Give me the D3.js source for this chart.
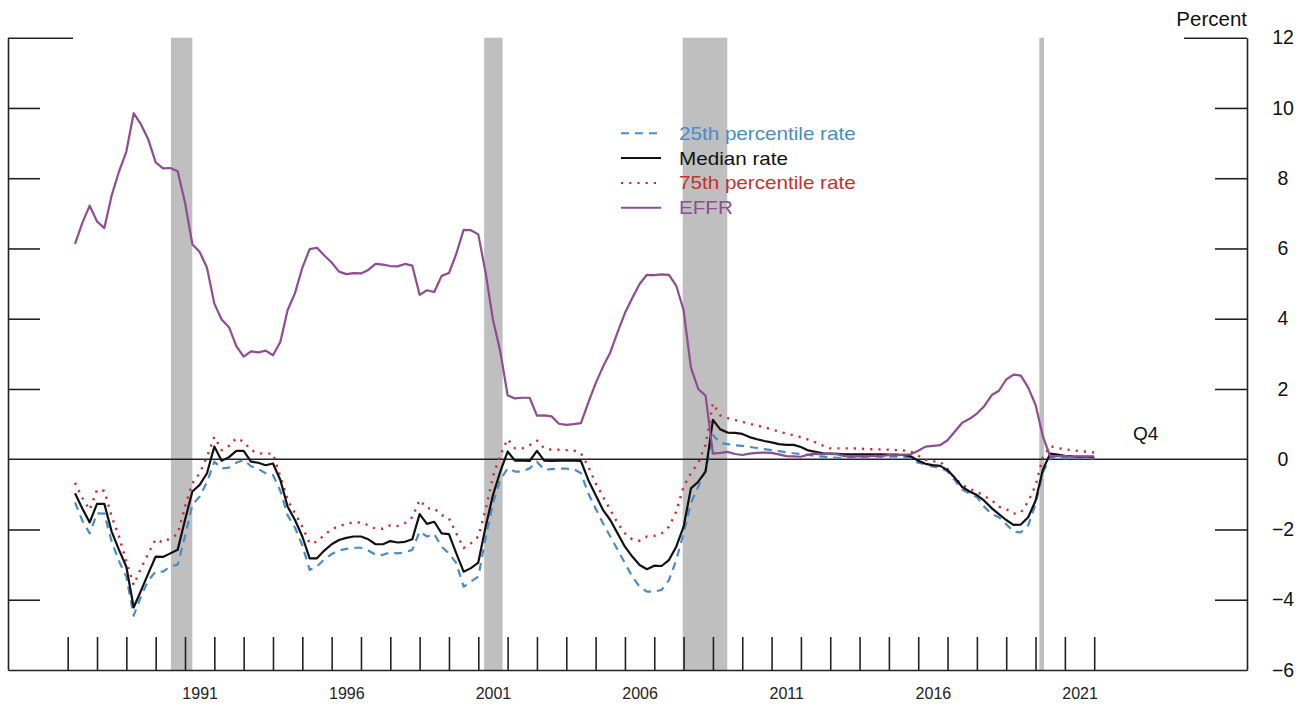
<!DOCTYPE html>
<html>
<head>
<meta charset="utf-8">
<script src="https://cdn.jsdelivr.net/npm/d3@7"></script>
<style>
  html, body { margin: 0; padding: 0; background: #fff; }
  svg { display: block; font-family: "Liberation Sans", Arial, Helvetica, sans-serif; }
</style>
</head>
<body>
<svg id="chart" width="1314" height="706"></svg>
<script>
// Quarterly observations, 1987:Q1 through 2021:Q4 (one row per year)
const firstYear = 1987;
const lastYear = 2021;

const effr = [
  6.13, 6.73, 7.22, 6.77,
  6.58, 7.51, 8.19, 8.76,
  9.85, 9.53, 9.10, 8.45,
  8.28, 8.29, 8.20, 7.31,
  6.12, 5.90, 5.45, 4.43,
  3.98, 3.76, 3.22, 2.92,
  3.07, 3.04, 3.09, 2.96,
  3.34, 4.25, 4.73, 5.45,
  5.98, 6.02, 5.80, 5.60,
  5.34, 5.27, 5.30, 5.29,
  5.39, 5.56, 5.54, 5.50,
  5.49, 5.56, 5.51, 4.68,
  4.81, 4.76, 5.22, 5.30,
  5.85, 6.53, 6.52, 6.40,
  5.31, 3.97, 3.07, 1.82,
  1.73, 1.75, 1.75, 1.24,
  1.25, 1.22, 1.01, 0.98,
  1.00, 1.03, 1.61, 2.16,
  2.63, 3.04, 3.62, 4.16,
  4.59, 4.99, 5.25, 5.24,
  5.26, 5.25, 4.94, 4.24,
  2.61, 2.00, 1.81, 0.16,
  0.18, 0.21, 0.15, 0.12,
  0.16, 0.18, 0.19, 0.18,
  0.14, 0.09, 0.08, 0.07,
  0.13, 0.16, 0.14, 0.16,
  0.14, 0.09, 0.08, 0.09,
  0.08, 0.10, 0.09, 0.12,
  0.11, 0.13, 0.14, 0.24,
  0.36, 0.38, 0.40, 0.54,
  0.79, 1.04, 1.15, 1.30,
  1.51, 1.82, 1.95, 2.27,
  2.41, 2.38, 2.04, 1.55,
  0.65, 0.08, 0.09, 0.09,
  0.07, 0.08, 0.08, 0.08
];

const medianRate = [
  -0.97, -1.40, -1.80, -1.27,
  -1.27, -2.06, -2.58, -3.06,
  -4.22, -3.74, -3.25, -2.77,
  -2.78, -2.68, -2.58, -1.73,
  -0.92, -0.73, -0.40, 0.36,
  -0.04, 0.06, 0.24, 0.24,
  -0.07, -0.10, -0.17, -0.12,
  -0.59, -1.35, -1.73, -2.20,
  -2.82, -2.82, -2.60, -2.42,
  -2.30, -2.24, -2.20, -2.20,
  -2.28, -2.42, -2.42, -2.33,
  -2.37, -2.35, -2.28, -1.56,
  -1.84, -1.78, -2.11, -2.13,
  -2.68, -3.20, -3.10, -2.94,
  -1.92, -1.02, -0.35, 0.22,
  -0.04, -0.04, -0.05, 0.24,
  -0.04, -0.05, -0.04, -0.04,
  -0.04, -0.05, -0.59, -1.02,
  -1.44, -1.73, -2.11, -2.49,
  -2.77, -3.01, -3.13, -3.03,
  -3.04, -2.87, -2.49, -1.92,
  -0.83, -0.64, -0.35, 1.12,
  0.85, 0.76, 0.75, 0.72,
  0.63, 0.57, 0.52, 0.48,
  0.43, 0.41, 0.41, 0.35,
  0.25, 0.21, 0.17, 0.16,
  0.15, 0.14, 0.14, 0.14,
  0.14, 0.14, 0.14, 0.13,
  0.13, 0.12, 0.08, -0.04,
  -0.13, -0.17, -0.19, -0.31,
  -0.53, -0.79, -0.92, -1.02,
  -1.18, -1.39, -1.56, -1.73,
  -1.87, -1.86, -1.65, -1.18,
  -0.30, 0.16, 0.13, 0.10,
  0.08, 0.07, 0.07, 0.06
];

const pct25Rate = [
  -1.23, -1.75, -2.11, -1.54,
  -1.55, -2.35, -2.90, -3.35,
  -4.45, -3.90, -3.45, -3.20,
  -3.20, -3.05, -3.00, -2.20,
  -1.30, -1.06, -0.65, -0.07,
  -0.26, -0.24, -0.10, -0.02,
  -0.20, -0.28, -0.40, -0.45,
  -0.90, -1.60, -1.95, -2.45,
  -3.15, -3.05, -2.85, -2.70,
  -2.60, -2.55, -2.52, -2.52,
  -2.60, -2.72, -2.72, -2.65,
  -2.68, -2.65, -2.58, -2.06,
  -2.20, -2.13, -2.49, -2.68,
  -2.96, -3.63, -3.48, -3.34,
  -2.25, -1.25, -0.59, -0.26,
  -0.35, -0.35, -0.26, -0.07,
  -0.30, -0.28, -0.27, -0.27,
  -0.28, -0.40, -0.97, -1.40,
  -1.82, -2.20, -2.58, -2.96,
  -3.34, -3.63, -3.77, -3.77,
  -3.72, -3.44, -2.87, -2.11,
  -1.25, -0.78, -0.30, 0.69,
  0.46, 0.43, 0.40, 0.38,
  0.35, 0.32, 0.29, 0.26,
  0.23, 0.20, 0.17, 0.15,
  0.12, 0.09, 0.07, 0.05,
  0.04, 0.04, 0.05, 0.06,
  0.07, 0.07, 0.07, 0.07,
  0.07, 0.06, 0.03, -0.10,
  -0.15, -0.21, -0.24, -0.35,
  -0.60, -0.86, -0.98, -1.08,
  -1.35, -1.56, -1.65, -1.85,
  -2.06, -2.08, -1.88, -1.28,
  -0.38, 0.06, 0.04, 0.03,
  0.03, 0.03, 0.03, 0.03
];

const pct75Rate = [
  -0.67, -1.10, -1.44, -0.87,
  -0.90, -1.63, -2.20, -2.91,
  -3.58, -3.10, -2.68, -2.28,
  -2.37, -2.25, -2.13, -1.35,
  -0.68, -0.40, 0.07, 0.64,
  0.26, 0.38, 0.60, 0.50,
  0.26, 0.17, 0.16, 0.16,
  -0.49, -1.16, -1.54, -1.92,
  -2.39, -2.35, -2.15, -2.00,
  -1.90, -1.84, -1.80, -1.80,
  -1.88, -1.98, -1.98, -1.88,
  -1.90, -1.82, -1.65, -1.16,
  -1.40, -1.40, -1.59, -1.68,
  -2.11, -2.53, -2.39, -2.20,
  -1.44, -0.49, 0.12, 0.57,
  0.31, 0.31, 0.40, 0.53,
  0.31, 0.27, 0.27, 0.26,
  0.25, 0.17, -0.21, -0.68,
  -1.06, -1.44, -1.82, -2.11,
  -2.28, -2.32, -2.20, -2.18,
  -2.11, -1.92, -1.49, -0.78,
  -0.40, -0.11, 0.41, 1.59,
  1.25, 1.17, 1.12, 1.06,
  1.01, 0.96, 0.91, 0.85,
  0.79, 0.73, 0.68, 0.63,
  0.56, 0.48, 0.39, 0.31,
  0.31, 0.31, 0.31, 0.30,
  0.29, 0.28, 0.28, 0.27,
  0.26, 0.25, 0.22, 0.10,
  -0.02, -0.06, -0.07, -0.28,
  -0.55, -0.72, -0.85, -0.92,
  -1.05, -1.16, -1.35, -1.42,
  -1.55, -1.52, -1.20, -0.75,
  0.05, 0.37, 0.32, 0.28,
  0.26, 0.23, 0.21, 0.19
];

// NBER recession periods, in decimal years
const recessions = [
  [1990.52, 1991.25],
  [2001.20, 2001.83],
  [2007.97, 2009.49],
  [2020.13, 2020.29]
];

const yTicks = [-6, -4, -2, 0, 2, 4, 6, 8, 10, 12];
const yearTicks = d3.range(1987, 2023);
const yearLabels = [1991, 1996, 2001, 2006, 2011, 2016, 2021];

const legendItems = [
  { label: "25th percentile rate", key: "p25" },
  { label: "Median rate", key: "median" },
  { label: "75th percentile rate", key: "p75" },
  { label: "EFFR", key: "effr" }
];

// ---- styles ----
const styles = {
  p25:    { color: "#4a8cc6", dash: "8,6",   width: 2.2 },
  median: { color: "#111111", dash: null,    width: 2.2 },
  p75:    { color: "#c8302e", dash: "2.2,6", width: 2.4 },
  effr:   { color: "#8f4b93", dash: null,    width: 2.2 }
};

// Quarter-end dates: Q1 -> year + 0.25, ..., Q4 -> year + 1.0
const dates = [];
for (let yr = firstYear; yr <= lastYear; yr++) {
  for (let q = 1; q <= 4; q++) dates.push(yr + q / 4);
}

const svg = d3.select("#chart");
const plotL = 8, plotR = 1247, plotT = 37.7, plotB = 670;

const x = d3.scaleLinear().domain([1984.965, 2027.21]).range([plotL, plotR]);
const y = d3.scaleLinear().domain([-6, 12]).range([plotB, plotT]);

const axisColor = "#222";

// Recession shading
svg.append("g")
  .selectAll("rect")
  .data(recessions)
  .join("rect")
  .attr("x", d => x(d[0]))
  .attr("width", d => x(d[1]) - x(d[0]))
  .attr("y", plotT)
  .attr("height", plotB - plotT)
  .attr("fill", "#bfbfbf");

// Left axis: ticks pointing inward, no labels
const gLeft = svg.append("g")
  .attr("transform", `translate(${plotL},0)`)
  .call(d3.axisLeft(y).tickValues(yTicks.filter(v => v !== -6 && v !== 0))
    .tickSize(-32).tickSizeOuter(0).tickFormat(""));

// Right axis: ticks pointing inward, labels outside
const gRight = svg.append("g")
  .attr("transform", `translate(${plotR},0)`)
  .call(d3.axisRight(y).tickValues(yTicks)
    .tickSize(-32).tickSizeOuter(0).tickPadding(36).tickFormat(d3.format("d")));

gRight.selectAll(".tick text")
  .attr("text-anchor", "middle")
  .attr("font-size", 19.5)
  .attr("fill", "#111")
  .attr("font-family", "Liberation Sans, Arial, sans-serif");
gRight.selectAll(".tick").filter(d => d === -6 || d === 0).select("line").remove();

// Longer top ticks at 12
gLeft.selectAll(".tick").filter(d => d === 12).select("line").attr("x2", 65);
gRight.selectAll(".tick").filter(d => d === 12).select("line").attr("x2", -63);

// Bottom axis: yearly ticks pointing up
const gBottom = svg.append("g")
  .attr("transform", `translate(0,${plotB})`)
  .call(d3.axisBottom(x).tickValues(yearTicks).tickSize(-33).tickSizeOuter(0).tickFormat(""));

// Year labels centred within each year
const gLabels = svg.append("g")
  .attr("transform", `translate(0,${plotB})`)
  .call(d3.axisBottom(x).tickValues(yearLabels.map(v => v + 0.5))
    .tickSize(0).tickPadding(18).tickFormat(d => String(Math.floor(d))));
gLabels.select(".domain").remove();
gLabels.selectAll(".tick text")
  .attr("font-size", 16)
  .attr("fill", "#222")
  .attr("font-family", "Liberation Sans, Arial, sans-serif");

[gLeft, gRight, gBottom].forEach(g => {
  g.selectAll("line, path").attr("stroke", axisColor).attr("stroke-width", 1.6);
});

// Zero line
svg.append("line")
  .attr("x1", plotL).attr("x2", plotR)
  .attr("y1", y(0)).attr("y2", y(0))
  .attr("stroke", axisColor).attr("stroke-width", 1.6);

// Series lines
const line = d3.line()
  .x((d, i) => x(dates[i]))
  .y(d => y(d));

const series = [
  { key: "p25", values: pct25Rate },
  { key: "p75", values: pct75Rate },
  { key: "median", values: medianRate },
  { key: "effr", values: effr }
];

svg.append("g")
  .selectAll("path")
  .data(series)
  .join("path")
  .attr("d", d => line(d.values))
  .attr("fill", "none")
  .attr("stroke", d => styles[d.key].color)
  .attr("stroke-width", d => styles[d.key].width)
  .attr("stroke-dasharray", d => styles[d.key].dash)
  .attr("stroke-linejoin", "round");

// Legend
const legend = svg.append("g").attr("transform", "translate(621,133.3)");
const rowH = 24.8;
legendItems.forEach((item, i) => {
  const st = styles[item.key];
  const row = legend.append("g").attr("transform", `translate(0,${i * rowH})`);
  row.append("line")
    .attr("x1", 0).attr("x2", 40)
    .attr("y1", 0).attr("y2", 0)
    .attr("stroke", st.color)
    .attr("stroke-width", 2)
    .attr("stroke-dasharray", st.dash);
  row.append("text")
    .attr("transform", "translate(58,6.5) scale(1.18,1)")
    .attr("font-size", 17.5)
    .attr("fill", st.color)
    .text(item.label);
});

// Unit label and latest-quarter note
svg.append("text")
  .attr("x", plotR).attr("y", 26)
  .attr("text-anchor", "end")
  .attr("font-size", 20.5)
  .attr("fill", "#111")
  .text("Percent");

svg.append("text")
  .attr("x", 1133).attr("y", 440)
  .attr("font-size", 19)
  .attr("fill", "#111")
  .text("Q4");
</script>
</body>
</html>
